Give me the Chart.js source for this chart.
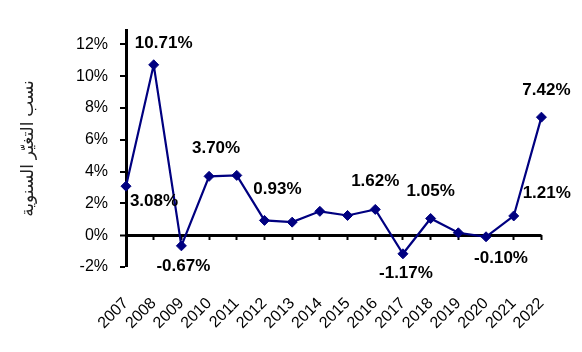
<!DOCTYPE html>
<html>
<head>
<meta charset="utf-8">
<script src="https://cdn.jsdelivr.net/npm/chart.js@4.4.1/dist/chart.umd.min.js"></script>
<style>
  html, body { margin: 0; padding: 0; background: #fff; }
  #wrap { width: 582px; height: 352px; }
</style>
</head>
<body>
<div id="wrap"><canvas id="rate-line-chart" width="582" height="352"></canvas></div>
<script>
// years on the x axis
var years = ['2007', '2008', '2009', '2010', '2011', '2012', '2013', '2014',
             '2015', '2016', '2017', '2018', '2019', '2020', '2021', '2022'];
// annual change rate, %
var rates = [3.08, 10.71, -0.67, 3.70, 3.76, 0.93, 0.82, 1.50,
             1.24, 1.62, -1.17, 1.05, 0.15, -0.10, 1.21, 7.42];
// y axis tick values
var yTicks = [-2, 0, 2, 4, 6, 8, 10, 12];
var yTitle = 'نسب التغيّر السنوية';

// which points carry a value label, and where the label sits relative to the point
var labelled = [0, 1, 2, 3, 5, 9, 10, 11, 13, 14, 15];
var labelShift = {
    0: [28, 15], 1: [10, -22], 2: [2, 20], 3: [7, -28], 5: [13, -31],
    9: [0, -28], 10: [3, 20], 11: [0, -27], 13: [15, 22], 14: [33, -23], 15: [5, -27]
};

var FONT = 'Arial, "Liberation Sans", "DejaVu Sans", sans-serif';

var valueLabels = {
    id: 'valueLabels',
    afterDatasetsDraw: function (chart) {
        var ctx = chart.ctx;
        var meta = chart.getDatasetMeta(0);
        ctx.save();
        ctx.font = 'bold 17px ' + FONT;
        ctx.fillStyle = '#000';
        ctx.textAlign = 'center';
        ctx.textBaseline = 'middle';
        labelled.forEach(function (i) {
            var pt = meta.data[i];
            var s = labelShift[i];
            ctx.fillText(rates[i].toFixed(2) + '%', pt.x + s[0], pt.y + s[1]);
        });
        ctx.restore();
    }
};

var config = {
    type: 'line',
    data: {
        labels: years,
        datasets: [{
            data: rates,
            borderColor: '#000080',
            backgroundColor: '#000080',
            borderWidth: 2.2,
            pointStyle: 'rectRot',
            pointRadius: 5,
            pointBorderWidth: 1,
            tension: 0,
            fill: false
        }]
    },
    options: {
        responsive: false,
        animation: false,
        layout: {padding: {top: 30, right: 36, left: 0, bottom: 0}},
        plugins: {
            legend: {display: false},
            tooltip: {enabled: false}
        },
        scales: {
            x: {
                type: 'category',
                offset: false,
                border: {display: false},
                grid: {display: false, drawTicks: false},
                ticks: {
                    color: '#000',
                    font: {family: FONT, size: 16},
                    minRotation: 45,
                    maxRotation: 45,
                    autoSkip: false,
                    padding: 27
                },
                afterFit: function (scale) { scale.height = 85; }
            },
            x2: {
                type: 'category',
                labels: years,
                offset: false,
                position: {y: 0},
                border: {display: false},
                grid: {drawOnChartArea: false, drawTicks: true, tickLength: 5, tickWidth: 2, tickColor: '#000'},
                ticks: {display: false, autoSkip: false}
            },
            y: {
                min: -2,
                max: 12.9,
                border: {display: true, color: '#000', width: 3},
                grid: {
                    drawOnChartArea: true,
                    drawTicks: true,
                    tickLength: 6,
                    tickWidth: 2,
                    tickColor: '#000',
                    color: function (c) { return c.tick && c.tick.value === 0 ? '#000' : 'rgba(0,0,0,0)'; },
                    lineWidth: function (c) { return c.tick && c.tick.value === 0 ? 3 : 0; }
                },
                afterBuildTicks: function (scale) {
                    scale.ticks = yTicks.map(function (v) { return {value: v}; });
                },
                ticks: {
                    color: '#000',
                    font: {family: FONT, size: 16},
                    padding: 12,
                    callback: function (v) { return v + '%'; }
                },
                title: {
                    display: true,
                    text: yTitle,
                    color: '#222',
                    font: {family: FONT, size: 17},
                    padding: {top: 18, bottom: 0}
                },
                afterFit: function (scale) { scale.width = 126; }
            }
        }
    },
    plugins: [valueLabels]
};

var ctx = document.getElementById('rate-line-chart').getContext('2d');
window.rateLineChart = new Chart(ctx, config);
</script>
</body>
</html>
